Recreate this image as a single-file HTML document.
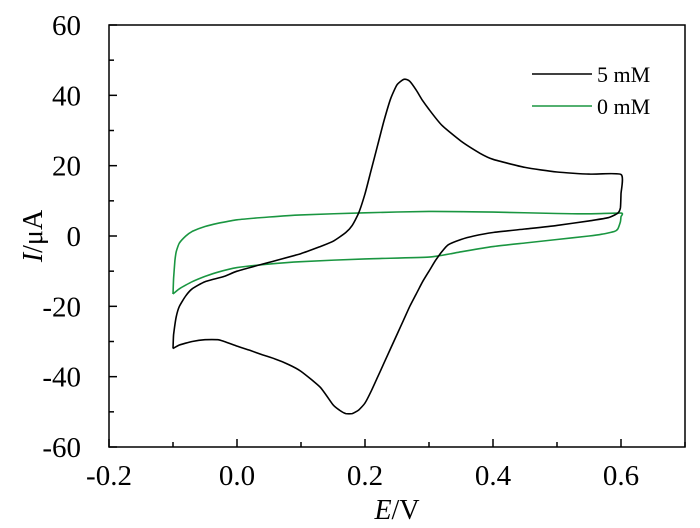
<!DOCTYPE html>
<html><head><meta charset="utf-8">
<style>
body{margin:0;background:#fff;}
svg{display:block;}
text{font-family:"Liberation Serif","DejaVu Serif",serif;}
</style></head>
<body>
<svg id="chart" width="700" height="528" viewBox="0 0 700 528" xmlns="http://www.w3.org/2000/svg">
<g id="axes"></g>
<g id="series"></g>
<g id="legend">
  <line x1="532" y1="74" x2="592" y2="74" stroke="#000" stroke-width="1.5"/>
  <text x="597" y="82" font-size="22" font-family="Liberation Serif, serif">5 mM</text>
  <line x1="532" y1="106" x2="592" y2="106" stroke="#1a9641" stroke-width="1.5"/>
  <text x="597" y="114" font-size="22" font-family="Liberation Serif, serif">0 mM</text>
</g>
<text x="397" y="519" font-size="28" text-anchor="middle" font-family="Liberation Serif, serif"><tspan font-style="italic">E</tspan>/V</text>
<text transform="translate(42,236) rotate(-90)" font-size="28" text-anchor="middle" font-family="Liberation Serif, serif"><tspan font-style="italic">I</tspan>/μA</text>
</svg>
<script>
const xTicks=[-0.2,0.0,0.2,0.4,0.6];
const xTickLabels=["-0.2","0.0","0.2","0.4","0.6"];
const yTicks=[60,40,20,0,-20,-40,-60];
const yTickLabels=["60","40","20","0","-20","-40","-60"];
const e5=[-0.1,-0.099,-0.095,-0.09,-0.08,-0.07,-0.05,-0.02,0.0,0.05,0.1,0.13,0.15,0.17,0.18,0.19,0.2,0.21,0.22,0.23,0.24,0.25,0.26,0.265,0.27,0.28,0.29,0.3,0.32,0.35,0.38,0.4,0.45,0.5,0.55,0.6,
 0.6,0.599,0.595,0.58,0.55,0.5,0.45,0.4,0.37,0.35,0.33,0.32,0.31,0.3,0.29,0.28,0.27,0.26,0.25,0.24,0.23,0.22,0.21,0.2,0.19,0.18,0.17,0.16,0.15,0.13,0.1,0.08,0.06,0.04,0.02,0.0,-0.02,-0.03,-0.05,-0.07,-0.09,-0.1];
const i5=[-32,-28,-23,-20,-17,-15,-13,-11.5,-10,-7.5,-5,-3,-1.5,1,3,6.5,12,19,26,33,39,43,44.5,44.5,44,41.5,38.5,36,31.5,27,23.5,21.8,19.5,18.2,17.6,17.5,
 12,8,6.5,5.2,4.3,3,2,1,0,-1,-2.5,-4.5,-7,-10,-13,-16.5,-20,-24,-28,-32,-36,-40,-44,-47.5,-49.5,-50.5,-50.5,-49.5,-48,-43,-38.5,-36.5,-35,-33.8,-32.5,-31.3,-30,-29.5,-29.5,-30,-31,-32];
const e0=[-0.1,-0.099,-0.097,-0.095,-0.09,-0.08,-0.07,-0.05,-0.03,0.0,0.05,0.1,0.2,0.3,0.4,0.5,0.55,0.6,0.6,0.599,0.595,0.59,0.57,0.55,0.5,0.45,0.4,0.35,0.3,0.2,0.1,0.05,0.0,-0.03,-0.05,-0.07,-0.09,-0.1];
const i0=[-16.5,-12,-7,-4.5,-2,0,1.3,2.7,3.6,4.6,5.4,6,6.6,7,6.8,6.4,6.3,6.5,5.5,4,2,1.3,0.5,0,-1,-2,-3,-4.5,-6,-6.5,-7.3,-8,-9,-10.3,-11.5,-13,-15,-16.5];
const L=109,R=685,T=25,B=447;
const xs=v=>237+(v-0.0)*640;
const ys=v=>236-v*(B-T)/120;
const NS="http://www.w3.org/2000/svg";
const ax=document.getElementById('axes');
function mk(tag,attrs,parent){const el=document.createElementNS(NS,tag);for(const k in attrs)el.setAttribute(k,attrs[k]);parent.appendChild(el);return el;}
const frame=mk('rect',{x:L,y:T,width:R-L,height:B-T,fill:'none',stroke:'#000','stroke-width':1.5},ax);


const FF="Liberation Serif, serif";
xTicks.forEach((v,i)=>{
  const t=mk('line',{x1:xs(v),x2:xs(v),y1:B,y2:B-8,stroke:'#000','stroke-width':1.5},ax);
  
  
  const m=mk('line',{x1:xs(v+0.1),x2:xs(v+0.1),y1:B,y2:B-5,stroke:'#000','stroke-width':1.5},ax);
  
  
  const lb=mk('text',{x:xs(v),y:B+38,'font-size':29,'text-anchor':'middle','font-family':FF},ax);
  lb.textContent=xTickLabels[i];
  
  
});
yTicks.forEach((v,i)=>{
  const t=mk('line',{x1:L,x2:L+8,y1:ys(v),y2:ys(v),stroke:'#000','stroke-width':1.5},ax);
  
  
  if(v>-60){const m=mk('line',{x1:L,x2:L+5,y1:ys(v-10),y2:ys(v-10),stroke:'#000','stroke-width':1.5},ax);
  
  }
  const lb=mk('text',{x:L-28,y:ys(v)+10,'font-size':29,'text-anchor':'end','font-family':FF},ax);
  lb.textContent=yTickLabels[i];
  
  
});
const sg=document.getElementById('series');
function line(E,I,color,name){
  const P=E.map((e,k)=>[xs(e),ys(I[k])]);
  let d='M'+P[0][0].toFixed(1)+','+P[0][1].toFixed(1);
  for(let k=0;k<P.length-1;k++){
    const p0=P[Math.max(k-1,0)],p1=P[k],p2=P[k+1],p3=P[Math.min(k+2,P.length-1)];
    const f=0.1;
    const c1=[p1[0]+(p2[0]-p0[0])*f,p1[1]+(p2[1]-p0[1])*f];
    const c2=[p2[0]-(p3[0]-p1[0])*f,p2[1]-(p3[1]-p1[1])*f];
    d+='C'+c1.map(n=>n.toFixed(1)).join(',')+' '+c2.map(n=>n.toFixed(1)).join(',')+' '+p2.map(n=>n.toFixed(1)).join(',');
  }
  const p=mk('path',{d:d,fill:'none',stroke:color,'stroke-width':1.6,'stroke-linejoin':'round'},sg);
  
  
}
line(e0,i0,'#1a9641','series-0mm');
line(e5,i5,'#000','series-5mm');
</script>
</body></html>
